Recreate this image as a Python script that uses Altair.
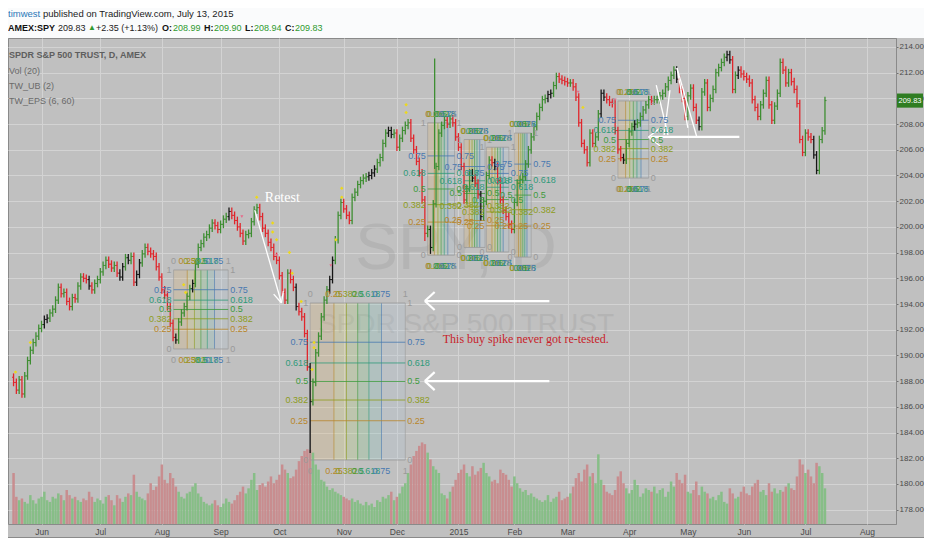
import altair as alt
import pandas as pd

# ---------------- data ----------------
closes = [
 187.9, 187.3, 188.1, 187.0, 188.4, 189.6, 190.4, 191.0, 191.5, 192.1,
 192.4, 192.8, 192.9, 193.3, 193.6, 194.3, 195.3, 194.8, 194.9, 194.2,
 193.8, 194.5, 194.4, 195.4, 196.1, 196.0, 195.9, 195.4, 195.1, 195.6,
 195.9, 196.5, 197.0, 197.4, 197.1, 196.8, 197.0, 196.4, 196.1, 196.9,
 197.6, 197.4, 197.7, 195.7, 196.3, 197.2, 197.9, 198.4, 198.1, 197.9,
 197.7, 196.9, 196.1, 195.1, 194.7, 193.8, 192.5, 191.4, 191.2, 192.6,
 193.3, 193.8, 194.6, 195.2, 195.6, 197.1, 198.4, 198.7, 199.2, 199.4,
 199.9, 200.3, 200.1, 199.8, 200.2, 200.6, 200.8, 201.2, 200.9, 200.5,
 200.0, 199.5, 198.9, 199.4, 199.5, 200.4, 201.3, 201.5, 200.8, 199.9,
 199.5, 198.8, 198.4, 197.7, 197.4, 196.2, 194.9, 194.3, 196.4, 195.9,
 195.3, 193.8, 193.4, 193.0, 191.7, 189.1, 186.4, 187.9, 190.2, 191.5,
 193.0, 194.3, 195.1, 195.9, 197.4, 199.0, 200.9, 201.9, 201.4, 200.9,
 200.5, 202.3, 202.7, 203.3, 203.6, 203.8, 203.9, 204.0, 204.2, 204.5,
 205.0, 205.4, 206.5, 207.3, 207.5, 207.2, 207.3, 206.2, 206.9, 207.5,
 207.9, 208.1, 206.9, 206.0, 205.1, 204.2, 202.1, 199.5, 199.8, 198.4,
 201.8, 204.7, 207.3, 207.9, 208.3, 208.0, 208.4, 208.1, 207.0, 206.2,
 204.7, 202.1, 203.0, 204.2, 203.8, 203.4, 202.5, 200.8, 202.0, 204.0,
 205.2, 205.0, 204.7, 203.6, 202.1, 201.3, 200.8, 200.2, 199.8, 201.9,
 203.4, 203.7, 203.9, 204.9, 206.0, 207.0, 207.8, 208.6, 209.3, 209.9,
 210.0, 210.3, 210.4, 211.0, 211.7, 211.5, 211.4, 211.3, 211.2, 211.2,
 210.9, 210.1, 208.1, 206.5, 206.0, 205.0, 207.3, 206.5, 207.0, 208.8,
 210.4, 210.1, 209.9, 209.7, 209.6, 207.5, 206.0, 205.4, 205.2, 206.5,
 207.4, 207.8, 208.0, 208.1, 208.6, 209.1, 209.5, 209.9, 209.8, 209.9,
 209.9, 210.2, 210.4, 210.9, 211.4, 211.8, 212.2, 211.5, 210.7, 210.0,
 208.6, 210.2, 210.8, 209.3, 208.3, 207.8, 210.5, 211.2, 209.3, 210.0,
 210.7, 212.0, 212.4, 212.8, 213.2, 213.4, 213.0, 210.7, 211.8, 212.2,
 211.9, 211.7, 211.5, 211.2, 209.9, 209.3, 208.6, 209.5, 210.4, 211.4,
 209.5, 208.3, 209.4, 210.4, 212.8, 212.2, 211.2, 212.0, 211.3, 210.7,
 209.6, 206.8, 205.8, 207.3, 207.0, 206.8, 205.6, 204.4, 206.8, 207.48,
 209.83,
]
first_open = 188.3
low_override = {106: 182.4, 149: 197.9, 147: 198.9}

volumes = [
 150, 80, 70, 75, 65, 60, 85, 70, 60, 75,
 80, 95, 70, 65, 80, 75, 90, 85, 70, 100,
 85, 75, 80, 70, 65, 75, 70, 95, 80, 65,
 75, 70, 60, 80, 85, 70, 55, 85, 75, 65,
 80, 90, 85, 145, 95, 80, 75, 70, 90, 120,
 100, 110, 140, 175, 130, 120, 150, 135, 110, 95,
 80, 75, 90, 95, 110, 120, 90, 80, 65, 60,
 55, 60, 70, 55, 50, 60, 75, 65, 60, 70,
 85, 95, 110, 90, 105, 130, 150, 100, 115, 120,
 110, 125, 140, 120, 130, 145, 175, 160, 150, 135,
 140, 160, 185, 200, 215, 220, 218, 210, 175, 160,
 130, 125, 110, 100, 105, 95, 90, 85, 80, 75,
 70, 75, 65, 70, 60, 55, 65, 55, 60, 50,
 70, 65, 80, 75, 85, 95, 70, 80, 90, 110,
 120, 150, 175, 200, 215, 230, 240, 235, 210, 190,
 170, 160, 150, 90, 85, 75, 95, 110, 130, 150,
 160, 175, 150, 140, 170, 145, 155, 165, 180, 150,
 140, 125, 130, 120, 160, 150, 145, 130, 110, 140,
 120, 105, 95, 100, 85, 90, 80, 75, 70, 65,
 70, 85, 65, 75, 80, 95, 70, 75, 80, 90,
 110, 135, 150, 125, 160, 175, 140, 150, 120, 205,
 130, 115, 95, 90, 85, 100, 140, 155, 120, 105,
 90, 100, 130, 115, 80, 90, 105, 100, 95, 110,
 90, 100, 105, 80, 95, 125, 110, 150, 130, 120,
 145, 95, 90, 100, 125, 85, 110, 95, 90, 75,
 80, 70, 85, 95, 65, 60, 105, 90, 75, 80,
 95, 110, 90, 85, 110, 120, 130, 95, 100, 85,
 120, 95, 105, 90, 100, 95, 110, 120, 105, 100,
 140, 190, 175, 150, 160, 140, 120, 180, 170, 150,
 105,
]

black_bars = [11, 12, 27, 38, 39, 41, 44, 45, 58, 64, 77, 101, 106, 113, 114,
              127, 128, 129, 134, 135, 149, 164, 167, 172, 191, 192, 210, 211,
              218, 222, 237, 245, 255, 256, 259, 286, 287]

month_idx = [10, 31, 53, 74, 95, 118, 137, 159, 179, 198, 220, 241, 261, 283, 305]
month_lbl = ["Jun", "Jul", "Aug", "Sep", "Oct", "Nov", "Dec", "2015", "Feb", "Mar",
             "Apr", "May", "Jun", "Jul", "Aug"]
price_ticks = [178, 180, 182, 184, 186, 188, 190, 192, 194, 196, 198, 200, 202,
               204, 206, 208, 210, 212, 214]

# fib grids: (left bar index, right bar index, price at level 0, price at level 1)
fib_grids = [
    (57.2, 76.7, 190.5, 196.65),
    (106.0, 140.0, 181.86, 194.08),
    (148.0, 157.6, 197.8, 208.1),
    (161.0, 168.5, 198.4, 206.8),
    (169.0, 177.0, 198.05, 206.2),
    (179.0, 185.0, 197.65, 207.3),
    (216.0, 227.0, 203.8, 209.8),
]
fib_levels = [0, 0.25, 0.382, 0.5, 0.618, 0.75, 1]
fib_text = ["0", "0.25", "0.382", "0.5", "0.618", "0.75", "1"]
fib_colors = ["#9a9a9a", "#b8862a", "#8c9c1c", "#3d9a3d", "#2f9a7a", "#4878b0", "#9a9a9a"]
strip_colors = ["#dcb87a", "#d8d27a", "#b8d480", "#8ecc8e", "#8cc6c0", "#b4c4d4"]

# yellow / pink indicator markers (bar index, price)
yellow_i = [0.7, 6.0, 60.8, 61.5, 86.9, 92.6, 92.6, 94.0, 98.6, 99.6, 102.8, 107.4,
            107.4, 106.7, 115.2, 117.3, 117.3, 140.3, 140.3, 203.5]
yellow_p = [188.7, 191.0, 195.5, 194.9, 202.3, 200.3, 199.6, 199.0, 198.0, 196.4,
            194.2, 191.0, 190.6, 188.9, 199.0, 203.0, 202.3, 209.5, 208.9, 209.3]
pink_i = [81.6, 94.0, 113.4, 201.8, 207.4, 215.0]
pink_p = [200.8, 197.8, 197.0, 210.5, 207.5, 209.9]

# white annotation segments (bar index / price)
thin_x1 = [86.2, 95.76, 95.76, 226.9, 226.9, 237.1, 237.1, 229.7, 234.6]
thin_p1 = [201.3, 194.08, 194.08, 207.0, 207.0, 212.37, 212.37, 211.04, 210.65]
thin_x2 = [95.76, 96.4, 92.97, 231.1, 231.1, 244.2, 241.0, 233.9, 232.5]
thin_p2 = [194.08, 195.0, 194.77, 207.7, 206.3, 207.0, 207.7, 207.15, 207.15]
thick_x1 = [147.0, 147.0, 147.0, 147.0, 147.0, 147.0, 227.6]
thick_p1 = [194.23, 194.23, 194.23, 188.0, 188.0, 188.0, 207.0]
thick_x2 = [191.5, 150.5, 150.5, 191.5, 150.5, 150.5, 259.4]
thick_p2 = [194.23, 194.93, 193.53, 188.0, 188.7, 187.3, 207.0]
spike = {"i": 150.5, "lo": 204.5, "hi": 213.1}

last_price = 209.83

# ---------------- frames ----------------
n = len(closes)
opens = [first_open] + closes[:-1]
highs = [max(o, c) + 0.3 for o, c in zip(opens, closes)]
lows = [low_override.get(k, min(o, c) - 0.3) for k, (o, c) in enumerate(zip(opens, closes))]
bar_col = []
vol_col = []
for k in range(n):
    up = closes[k] >= opens[k]
    if k in black_bars:
        bar_col.append("#161616")
    else:
        bar_col.append("#3e8e32" if up else "#e0262c")
    vol_col.append("#84be84" if up else "#c88a8c")
bars = pd.DataFrame({"i": list(range(n)), "o": opens, "c": closes, "h": highs,
                     "l": lows, "col": bar_col, "v": volumes, "vcol": vol_col})

strips, hlines, vlines, lab_side, lab_time = [], [], [], [], []
for (i0, i1, p0, p1) in fib_grids:
    for k in range(6):
        strips.append({"a": i0 + fib_levels[k] * (i1 - i0), "b": i0 + fib_levels[k + 1] * (i1 - i0),
                       "p0": p0, "p1": p1, "col": strip_colors[k]})
    for k, f in enumerate(fib_levels):
        p = p0 + f * (p1 - p0)
        xx = i0 + f * (i1 - i0)
        hlines.append({"a": i0, "b": i1, "p": p, "col": fib_colors[k]})
        vlines.append({"x": xx, "p0": p0, "p1": p1, "col": fib_colors[k]})
        lab_side.append({"x": i0, "p": p, "t": fib_text[k], "col": fib_colors[k], "side": "L"})
        lab_side.append({"x": i1, "p": p, "t": fib_text[k], "col": fib_colors[k], "side": "R"})
        lab_time.append({"x": xx, "p": p1, "t": fib_text[k], "col": fib_colors[k], "pos": "T"})
        lab_time.append({"x": xx, "p": p0, "t": fib_text[k], "col": fib_colors[k], "pos": "B"})
strips = pd.DataFrame(strips)
hlines = pd.DataFrame(hlines)
vlines = pd.DataFrame(vlines)
lab_side = pd.DataFrame(lab_side)
lab_time = pd.DataFrame(lab_time)

thin = pd.DataFrame({"a": thin_x1, "pa": thin_p1, "b": thin_x2, "pb": thin_p2})
thick = pd.DataFrame({"a": thick_x1, "pa": thick_p1, "b": thick_x2, "pb": thick_p2})
yel = pd.DataFrame({"i": yellow_i, "p": yellow_p})
pnk = pd.DataFrame({"i": pink_i, "p": pink_p})

# ---------------- scales / helpers ----------------
W, H = 888, 486
RP, TP, BP = 28, 30, 14
SANS = "Liberation Sans, Arial, sans-serif"
SERIF = "Liberation Serif, Times New Roman, serif"
BG = "#c0c0c0"
xs = alt.Scale(domain=[-0.2, 313.6], nice=False, zero=False)
ys = alt.Scale(domain=[176.88, 214.7], nice=False, zero=False)
lbl_expr = "[" + ",".join("'%s'" % m for m in month_lbl) + "][indexof([" + \
    ",".join(str(v) for v in month_idx) + "], datum.value)]"
xaxis = alt.Axis(values=month_idx, labelExpr=lbl_expr, title=None, grid=True,
                 gridColor="#d3d3d3", gridWidth=1, ticks=False, domain=False,
                 labelColor="#4a4a4a", labelFontSize=8.5, labelFont=SANS, labelPadding=3)
yaxis = alt.Axis(orient="right", values=price_ticks, format=".2f", title=None, grid=True,
                 gridColor="#d3d3d3", gridWidth=1, tickSize=2, tickColor="#707070",
                 domain=True, domainColor="#8a8a8a", labelColor="#4a4a4a",
                 labelFontSize=8, labelFont=SANS, labelPadding=1)


def X(f):
    return alt.X(f, type="quantitative", scale=xs, axis=xaxis)


def Y(f, axis=None):
    return alt.Y(f, type="quantitative", scale=ys, axis=axis)


one = pd.DataFrame({"t": [""]})


def label(text, x, y, size=9, color="#222", weight="normal", font=SANS, align="left",
          opacity=1.0):
    return alt.Chart(pd.DataFrame({"t": [text]})).mark_text(
        align=align, baseline="middle", font=font, fontSize=size, color=color,
        fontWeight=weight, opacity=opacity
    ).encode(x=alt.value(x), y=alt.value(y), text="t:N")


# ---------------- layers ----------------
head_bg = alt.Chart(one).mark_rect(color="#fafbfc").encode(
    x=alt.value(0), x2=alt.value(W + RP), y=alt.value(-TP), y2=alt.value(0))
band_line = alt.Chart(one).mark_rule(color="#8a8a8a", strokeWidth=2).encode(
    x=alt.value(0), x2=alt.value(W + RP), y=alt.value(H + BP))

water1 = label("SPY, D", 448, 212, size=64, color="#8c8c8c", align="center", opacity=0.22)
water2 = label("SPDR S&P 500 TRUST", 458, 287, size=28, color="#8c8c8c", align="center",
               opacity=0.22)

fib_fill = alt.Chart(strips).mark_rect(opacity=0.28).encode(
    x=X("a"), x2="b", y=Y("p0"), y2="p1", color=alt.Color("col:N", scale=None))
fib_h = alt.Chart(hlines).mark_rule(strokeWidth=1, opacity=0.8).encode(
    x=X("a"), x2="b", y=Y("p"), color=alt.Color("col:N", scale=None))
fib_v = alt.Chart(vlines).mark_rule(strokeWidth=1, opacity=0.6).encode(
    x=X("x"), y=Y("p0"), y2="p1", color=alt.Color("col:N", scale=None))

vol = alt.Chart(bars).mark_bar(width=2.5, opacity=0.95).encode(
    x=X("i"), y=alt.Y("v:Q", scale=alt.Scale(domain=[0, 1430]), axis=None),
    color=alt.Color("vcol:N", scale=None))

hl = alt.Chart(bars).mark_rule(strokeWidth=1.3).encode(
    x=X("i"), y=Y("l", axis=yaxis), y2="h", color=alt.Color("col:N", scale=None))
otick = alt.Chart(bars).transform_calculate(ia="datum.i - 0.55").mark_rule(strokeWidth=1).encode(
    x=X("ia:Q"), x2="i", y=Y("o"), color=alt.Color("col:N", scale=None))
ctick = alt.Chart(bars).transform_calculate(ib="datum.i + 0.55").mark_rule(strokeWidth=1).encode(
    x=X("ib:Q"), x2="i", y=Y("c"), color=alt.Color("col:N", scale=None))

spike_l = alt.Chart(pd.DataFrame([spike])).mark_rule(color="#3e8e32", strokeWidth=1.3).encode(
    x=X("i"), y=Y("lo"), y2="hi")

ymark = alt.Chart(yel).mark_point(shape="diamond", filled=True, size=12, color="#ecd81c",
                                  opacity=1).encode(x=X("i"), y=Y("p"))
pmark = alt.Chart(pnk).mark_point(shape="triangle-down", filled=True, size=9, color="#e66a8a",
                                  opacity=1).encode(x=X("i"), y=Y("p"))

thin_l = alt.Chart(thin).mark_rule(color="white", strokeWidth=1.3).encode(
    x=X("a"), x2="b", y=Y("pa"), y2="pb")
thick_l = alt.Chart(thick).mark_rule(color="white", strokeWidth=2.2).encode(
    x=X("a"), x2="b", y=Y("pa"), y2="pb")

FS = 9
fib_left = alt.Chart(lab_side).transform_filter("datum.side == 'L'").mark_text(
    fontSize=FS, font=SANS, baseline="middle", align="right", dx=-2).encode(
    x=X("x"), y=Y("p"), text="t:N", color=alt.Color("col:N", scale=None))
fib_right = alt.Chart(lab_side).transform_filter("datum.side == 'R'").mark_text(
    fontSize=FS, font=SANS, baseline="middle", align="left", dx=2).encode(
    x=X("x"), y=Y("p"), text="t:N", color=alt.Color("col:N", scale=None))
fib_top = alt.Chart(lab_time).transform_filter("datum.pos == 'T'").mark_text(
    fontSize=FS, font=SANS, baseline="middle", align="center", dy=-9).encode(
    x=X("x"), y=Y("p"), text="t:N", color=alt.Color("col:N", scale=None))
fib_bot = alt.Chart(lab_time).transform_filter("datum.pos == 'B'").mark_text(
    fontSize=FS, font=SANS, baseline="middle", align="center", dy=11).encode(
    x=X("x"), y=Y("p"), text="t:N", color=alt.Color("col:N", scale=None))

retest = alt.Chart(pd.DataFrame({"i": [89.8], "p": [202.25], "t": ["Retest"]})).mark_text(
    align="left", baseline="middle", font=SERIF, fontSize=14, color="white").encode(
    x=X("i"), y=Y("p"), text="t:N")
note = alt.Chart(pd.DataFrame({"i": [153.4], "p": [191.28],
                               "t": ["This buy spike never got re-tested."]})).mark_text(
    align="left", baseline="middle", font=SERIF, fontSize=12, color="#c81e2a").encode(
    x=X("i"), y=Y("p"), text="t:N")

lastbox = alt.Chart(pd.DataFrame({"a": [last_price + 0.55], "b": [last_price - 0.55]})).mark_rect(
    color="#2f7d22").encode(x=alt.value(W + 1), x2=alt.value(W + 27), y=Y("a"), y2="b")
lasttxt = alt.Chart(pd.DataFrame({"p": [last_price], "t": ["209.83"]})).mark_text(
    align="center", baseline="middle", font=SANS, fontSize=7.5, color="white").encode(
    x=alt.value(W + 14), y=Y("p"), text="t:N")

G = "#2f9a2f"
L1, L2 = -24, -10
header = [
    label("timwest", 0, L1, 9.5, "#2a78b8"),
    label("published on TradingView.com, July 13, 2015", 35, L1, 9.5, "#222"),
    label("AMEX:SPY", 0, L2, 9, "#111", "bold"),
    label("209.83", 50, L2, 9, "#222"),
    label("\u25b2", 80, L2, 8, G),
    label("+2.35 (+1.13%)", 88, L2, 9, "#222"),
    label("O:", 154, L2, 9, "#111", "bold"),
    label("208.99", 165, L2, 9, G),
    label("H:", 196, L2, 9, "#111", "bold"),
    label("209.90", 206, L2, 9, G),
    label("L:", 237, L2, 9, "#111", "bold"),
    label("208.94", 246, L2, 9, G),
    label("C:", 277, L2, 9, "#111", "bold"),
    label("209.83", 287, L2, 9, G),
    label("SPDR S&P 500 TRUST, D, AMEX", 1, 17, 9, "#5e5e5e", "bold"),
    label("Vol (20)", 1, 33, 9, "#6a6a6a"),
    label("TW_UB (2)", 1, 48, 9, "#6a6a6a"),
    label("TW_EPS (6, 60)", 1, 63, 9, "#6a6a6a"),
]

chart = alt.layer(
    head_bg, band_line, water1, water2, fib_fill, vol, fib_v, fib_h,
    hl, otick, ctick, spike_l, ymark, pmark, thin_l, thick_l,
    fib_left, fib_right, fib_top, fib_bot,
    retest, note, lastbox, lasttxt, *header
).resolve_scale(y="independent").properties(
    width=W, height=H,
    padding={"left": 0, "top": TP, "right": RP, "bottom": BP},
    autosize=alt.AutoSizeParams(type="none"),
    background=BG,
).configure_view(fill=BG, stroke="#8a8a8a", strokeWidth=1)

chart.save("out.html", embed_options={"renderer": "svg", "actions": False})
